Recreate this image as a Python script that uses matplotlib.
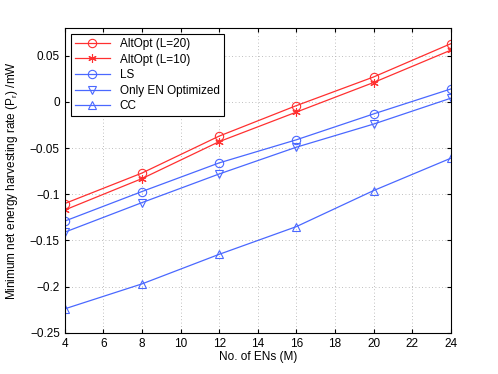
import matplotlib
matplotlib.use('Agg')
import matplotlib.pyplot as plt

plt.rcParams['font.family'] = ['Liberation Sans', 'DejaVu Sans']

num_ens = [4, 8, 12, 16, 20, 24]
altopt_20 = [-0.110, -0.077, -0.037, -0.004, 0.027, 0.063]
altopt_10 = [-0.117, -0.083, -0.043, -0.011, 0.021, 0.056]
ls = [-0.129, -0.097, -0.066, -0.041, -0.013, 0.014]
only_en = [-0.141, -0.109, -0.078, -0.049, -0.024, 0.004]
cc = [-0.224, -0.197, -0.165, -0.135, -0.096, -0.061]

rojo = '#ff3030'
azul = '#4a68ff'

fig = plt.figure(figsize=(4.98, 3.74), dpi=100)
ax = fig.add_axes([0.13, 0.11, 0.775, 0.815])

kw = dict(linewidth=0.9, markersize=6, markerfacecolor='none', markeredgewidth=0.8)
ax.plot(num_ens, altopt_20, '-o', color=rojo, label='AltOpt (L=20)', **kw)
ax.plot(num_ens, altopt_10, '-', marker=(6, 2, 0), color=rojo, label='AltOpt (L=10)', **kw)
ax.plot(num_ens, ls, '-o', color=azul, label='LS', **kw)
ax.plot(num_ens, only_en, '-v', color=azul, label='Only EN Optimized', **kw)
ax.plot(num_ens, cc, '-^', color=azul, label='CC', **kw)

ax.set_xlim(4, 24)
ax.set_ylim(-0.25, 0.08)
ax.set_xticks(range(4, 25, 2))
ax.set_yticks([-0.25, -0.2, -0.15, -0.1, -0.05, 0, 0.05])
ax.set_yticklabels(['\u22120.25', '\u22120.2', '\u22120.15', '\u22120.1', '\u22120.05', '0', '0.05'])
ax.grid(linestyle=(0, (1, 3)), color='#aaaaaa', linewidth=0.6)
ax.tick_params(direction='in', top=True, right=True, labelsize=8.5, length=3)
for s in ax.spines.values():
    s.set_linewidth(0.8)

ax.set_xlabel('No. of ENs (M)', fontsize=8.5, labelpad=1)
ax.set_ylabel('Minimum net energy harvesting rate (P$_\\mathregular{r}$) /mW', fontsize=8.5, labelpad=7)

leg = ax.legend(loc='upper left', fontsize=8.5, fancybox=False, framealpha=1,
                edgecolor='black', borderaxespad=0.5, handlelength=3.0,
                labelspacing=0.3, borderpad=0.35)
leg.get_frame().set_linewidth(0.8)

fig.savefig('out.png', dpi=100)
